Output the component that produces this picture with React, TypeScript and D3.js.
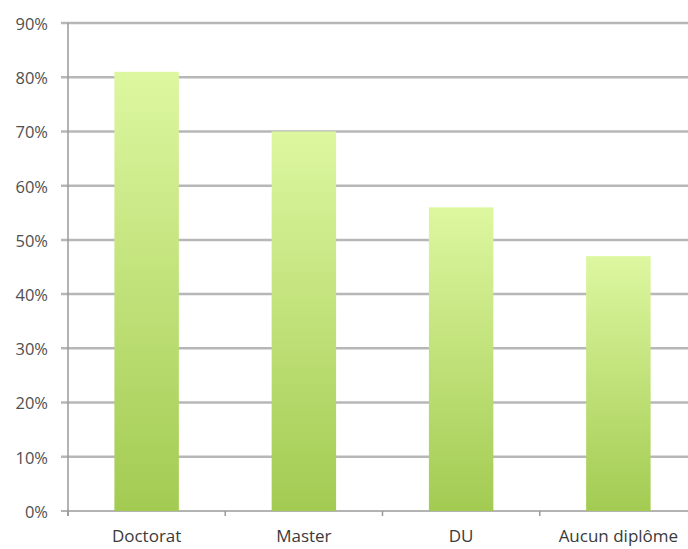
import * as d3 from "d3";
import * as React from "react";

const categories = ["Doctorat", "Master", "DU", "Aucun diplôme"];
const values = [81, 70, 56, 47];
const yTicks = [0, 10, 20, 30, 40, 50, 60, 70, 80, 90];

const W = 688;
const H = 549;
const margin = { top: 23, right: -9, bottom: 38, left: 68 };

const App: React.FC = () => {
  const x = d3
    .scaleBand()
    .domain(categories)
    .range([margin.left, W - margin.right])
    .paddingInner(0.59)
    .paddingOuter(0.295);

  const y = d3
    .scaleLinear()
    .domain([0, 90])
    .range([H - margin.bottom, margin.top]);

  const step = x.step();
  const x0 = margin.left;
  const boundaries = d3.range(categories.length + 1).map((i) => x0 + i * step);

  return (
    <svg
      width={W}
      height={H}
      style={{ position: "absolute", left: 0, top: 0, background: "#fff" }}
      fontFamily="'Open Sans', sans-serif"
    >
      <defs>
        <linearGradient id="barFill" x1="0" y1="0" x2="0" y2="1">
          <stop offset="0%" stopColor="#ddf7a0" />
          <stop offset="100%" stopColor="#a3cb52" />
        </linearGradient>
      </defs>

      {/* gridlines */}
      {yTicks.map((t) => (
        <line
          key={t}
          x1={61}
          x2={W}
          y1={y(t)}
          y2={y(t)}
          stroke={t === 0 ? "#9a9a9a" : "#b7b7b7"}
          strokeWidth={t === 0 ? 1.5 : 2.5}
        />
      ))}

      {/* y axis */}
      <line x1={x0} x2={x0} y1={y(90)} y2={y(0) + 5} stroke="#9a9a9a" strokeWidth={1.5} />

      {/* category ticks */}
      {boundaries.map((b, i) => (
        <line key={i} x1={b} x2={b} y1={y(0)} y2={y(0) + 5} stroke="#9a9a9a" strokeWidth={1.5} />
      ))}

      {/* y labels */}
      {yTicks.map((t) => (
        <text
          key={t}
          x={48}
          y={y(t)}
          dy="0.42em"
          textAnchor="end"
          fontSize={16.5}
          fill="#505050"
        >
          {t}%
        </text>
      ))}

      {/* bars */}
      {categories.map((c, i) => (
        <rect
          key={c}
          x={x(c)}
          y={y(values[i])}
          width={x.bandwidth()}
          height={y(0) - y(values[i])}
          fill="url(#barFill)"
        />
      ))}

      {/* category labels */}
      {categories.map((c) => (
        <text
          key={c}
          x={(x(c) ?? 0) + x.bandwidth() / 2}
          y={542}
          textAnchor="middle"
          fontSize={17}
          fill="#3a3a3a"
        >
          {c}
        </text>
      ))}
    </svg>
  );
};

export default App;
